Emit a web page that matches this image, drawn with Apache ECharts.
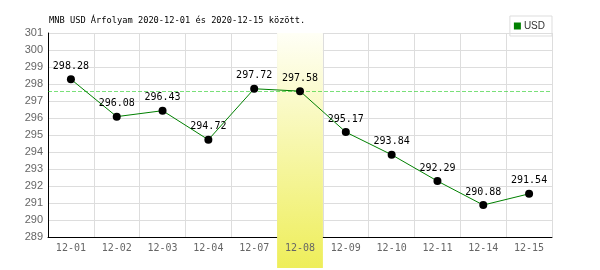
<!DOCTYPE html>
<html><head><meta charset="utf-8">
<script src="https://cdn.jsdelivr.net/npm/echarts@6/dist/echarts.min.js"></script>
<style>html,body{margin:0;padding:0;background:#fff}#c{width:600px;height:270px}</style>
</head><body><div id="c"></div>
<script>
const categories = ['12-01','12-02','12-03','12-04','12-07','12-08','12-09','12-10','12-11','12-14','12-15'];
const usdValues = [298.28,296.08,296.43,294.72,297.72,297.58,295.17,293.84,292.29,290.88,291.54];
const highlightCategory = '12-08';
const referenceValue = 297.58;
const yMin = 289, yMax = 301, yStep = 1;
const titleText = 'MNB USD Árfolyam 2020-12-01 és 2020-12-15 között.';
const seriesName = 'USD';

const mono = 'DejaVu Sans Mono';
const chart = echarts.init(document.getElementById('c'));
const bandData = categories.map(c => c === highlightCategory ? 1 : null);
chart.setOption({
  animation: false,
  backgroundColor: '#fff',
  title: { text: titleText, left: 44, top: 11, textStyle: { fontFamily: mono, fontSize: 8.7, fontWeight: 'normal', color: '#000' } },
  legend: { data: [{ name: seriesName, icon: 'rect', itemStyle: { color: '#008000' } }], right: 48, top: 16, itemWidth: 7, itemHeight: 7, itemGap: 2,
    padding: [5, 7, 5, 4], borderColor: '#ddd', borderWidth: 1,
    textStyle: { fontFamily: 'Liberation Sans', fontSize: 10, color: '#333', padding: [0,0,0,-2] } },
  grid: [
    { left: 48, right: 48, top: 33, bottom: 33 },
    { left: 48, right: 48, top: 33, bottom: 2 }
  ],
  xAxis: [
    { type: 'category', data: categories, gridIndex: 0, boundaryGap: true,
      axisLine: { lineStyle: { color: '#000', width: 1 } }, axisTick: { show: false },
      axisLabel: { fontFamily: mono, fontSize: 10, color: '#666', margin: 6 },
      splitLine: { show: true, lineStyle: { color: '#ddd' } } },
    { type: 'category', data: categories, gridIndex: 1, show: false, boundaryGap: true }
  ],
  yAxis: [
    { type: 'value', min: yMin, max: yMax, interval: yStep, gridIndex: 0,
      axisLine: { show: true, lineStyle: { color: '#000' } }, axisTick: { show: false },
      axisLabel: { fontFamily: 'Liberation Sans', fontSize: 11, color: '#666', margin: 5 },
      splitLine: { lineStyle: { color: '#ddd' } } },
    { type: 'value', min: 0, max: 1, gridIndex: 1, show: false }
  ],
  series: [
    { type: 'bar', xAxisIndex: 1, yAxisIndex: 1, data: bandData, barWidth: '100%', z: 0, silent: true,
      itemStyle: { color: new echarts.graphic.LinearGradient(0,0,0,1,[{offset:0,color:'#fffff6'},{offset:1,color:'#eeee5a'}]) } },
    { name: seriesName, type: 'line', data: usdValues, z: 5,
      lineStyle: { color: '#008000', width: 1 }, itemStyle: { color: '#000' },
      symbol: 'circle', symbolSize: 8,
      label: { show: true, position: 'top', distance: 4, fontFamily: mono, fontSize: 10, color: '#000', formatter: p => p.value.toFixed(2) },
      markLine: { silent: true, symbol: ['none', 'none'], label: { show: false }, emphasis: { disabled: true },
        lineStyle: { color: '#22cc22', type: 'dashed', width: 1, opacity: 0.6 },
        data: [{ yAxis: referenceValue }] } }
  ]
});
</script></body></html>
